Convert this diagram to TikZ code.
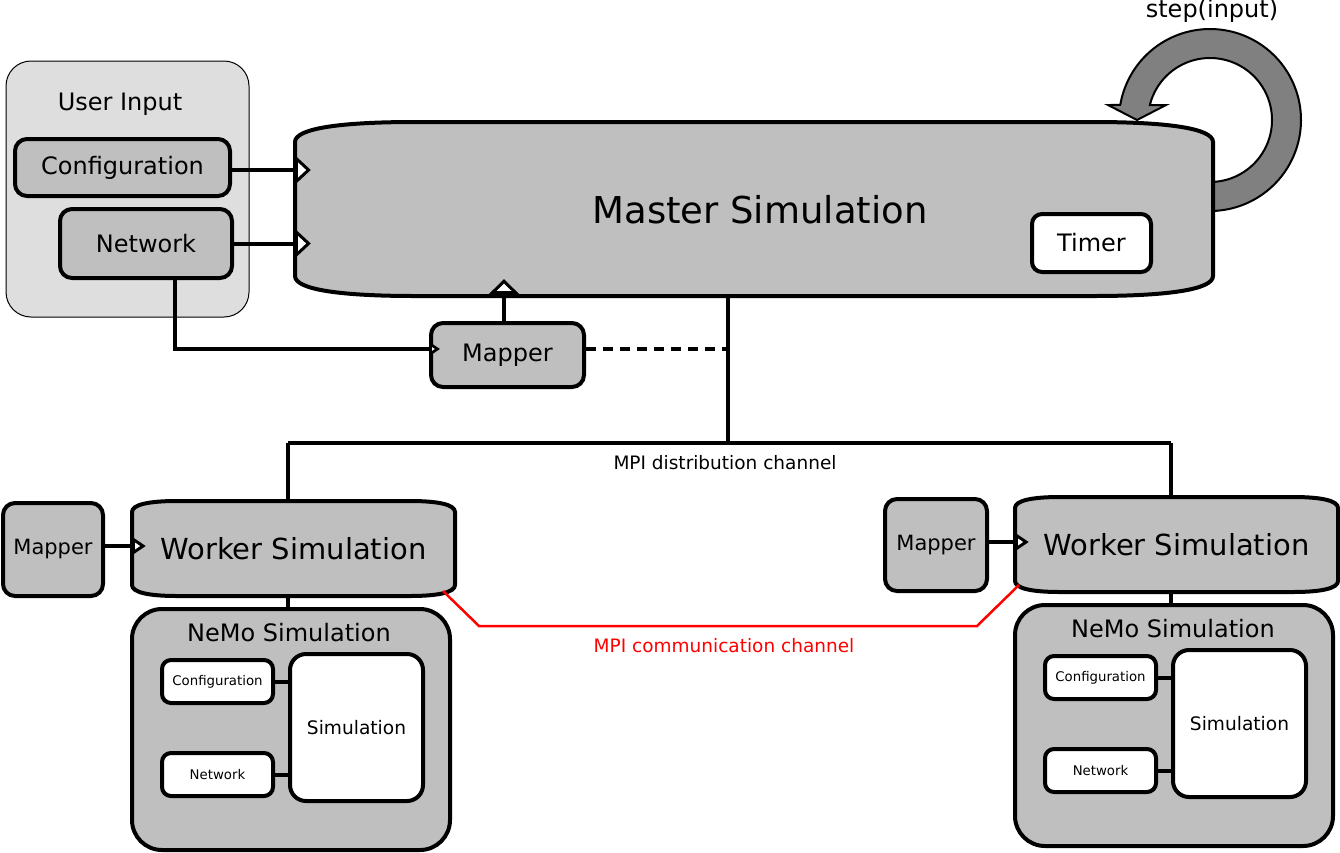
\documentclass[tikz,border=0pt]{standalone}
\usepackage{fontspec}
\setmainfont{DejaVu Sans}
\usetikzlibrary{arrows.meta,calc}
\definecolor{silverc}{RGB}{191,191,191}
\definecolor{uibg}{RGB}{222,222,222}
\definecolor{stepgray}{RGB}{128,128,128}
\newcommand\fsz[1]{\fontsize{#1}{#1}\selectfont}
\newcommand\curvedbox[7]{%
 \filldraw[#7] (#1,{#2+#6}) .. controls (#1,{#2+0.3*#6}) and ({#1+0.4*#5},#2) .. ({#1+#5},#2)
 -- ({#3-#5},#2) .. controls ({#3-0.4*#5},#2) and (#3,{#2+0.3*#6}) .. (#3,{#2+#6})
 -- (#3,{#4-#6}) .. controls (#3,{#4-0.3*#6}) and ({#3-0.4*#5},#4) .. ({#3-#5},#4)
 -- ({#1+#5},#4) .. controls ({#1+0.4*#5},#4) and (#1,{#4-0.3*#6}) .. (#1,{#4-#6}) -- cycle;}
\begin{document}
\begin{tikzpicture}[x=1pt,y=-1pt,
 box/.style={draw,line width=4pt,fill=silverc,rounded corners=12pt,inner sep=0pt},
 wbox/.style={box,fill=white},
 conn/.style={line width=4pt},
 shapeline/.style={fill=silverc,draw,line width=4pt},
 bigtip/.style={-{Triangle[length=16pt,width=29pt,fill=white,line width=3pt]},shorten >=-16pt},
 uptip/.style={-{Triangle[length=15pt,width=30pt,fill=white,line width=3pt]},shorten >=-17pt},
 smalltip/.style={-{Triangle[length=11pt,width=14pt,fill=white,line width=3pt]},shorten >=-11pt},
 midtip/.style={-{Triangle[length=14pt,width=18pt,fill=white,line width=3pt]},shorten >=-14pt},
]
\useasboundingbox (0,0) rectangle (1340,852);

% user input
\node[draw,line width=1pt,fill=uibg,rounded corners=25pt,minimum width=243pt,minimum height=256pt,inner sep=0pt] (ui) at (127.5,189) {};
\node[font=\fsz{24}] (uilabel) at (120,104) {User Input};
\node[box,minimum width=215pt,minimum height=57pt,font=\fsz{24}] (conf) at (122.5,167.5) {Configuration};
\node[box,minimum width=172pt,minimum height=69pt,font=\fsz{24}] (net) at (146,243.5) {Network};

% step arrow
\filldraw[fill=stepgray,line width=2pt,line join=miter]
  plot[smooth,samples=60,domain=0:265.5] ({1210+91*cos(95-\x)},{120+91*sin(95-\x)})
  -- (1108,105) -- (1137,120) -- (1166,105)
  -- plot[smooth,samples=60,domain=-166:95] ({1210+62*cos(\x)},{120+62*sin(\x)}) -- cycle;
\node[font=\fsz{24}] (steplbl) at (1212,11) {step(input)};

% master
\curvedbox{295}{122}{1213}{296}{120}{20}{shapeline}
\node[minimum width=918pt,minimum height=174pt,inner sep=0pt] (master) at (754,209) {};
\node[font=\fsz{37}] (mtitle) at (760,210) {Master Simulation};
\node[wbox,rounded corners=10pt,minimum width=119pt,minimum height=58pt,font=\fsz{24}] (timer) at (1091.5,243) {Timer};

\draw[conn,bigtip] ([yshift=-2.5pt]conf.east) -- ([yshift=-2.5pt]conf.east -| master.west);
\draw[conn,bigtip] (net.east) -- (net.east -| master.west);

% mapper
\node[box,minimum width=153pt,minimum height=64pt,font=\fsz{24}] (mapper) at (507.5,355) {Mapper};
\draw[conn,smalltip] ([xshift=29pt]net.south) |- ([yshift=6pt]mapper.west);
\draw[conn,uptip] ([xshift=-3.5pt]mapper.north) -- ([xshift=-3.5pt]mapper.north |- master.south);
\coordinate (mb) at ([xshift=-26pt]master.south);
\coordinate (hub) at (728,443);
\draw[conn] (mb) -- (hub);
\draw[conn,dash pattern=on 10pt off 7pt] ([yshift=6pt]mapper.east) -- ([yshift=6pt]mapper.east -| mb);

% distribution channel
\coordinate (dl) at (288,443);
\coordinate (dr) at (1171,443);
\draw[conn] (dl) -- (dr);
\node[font=\fsz{18.5}] (mpid) at (725,463) {MPI distribution channel};

% workers
\curvedbox{132}{501}{455}{596}{45}{11}{shapeline}
\node[minimum width=323pt,minimum height=95pt,inner sep=0pt,font=\fsz{29}] (w1) at (293.5,548.5) {Worker Simulation};
\curvedbox{1015}{497}{1338}{592}{45}{11}{shapeline}
\node[minimum width=323pt,minimum height=95pt,inner sep=0pt,font=\fsz{29}] (w2) at (1176.5,544.5) {Worker Simulation};
\draw[conn] (dl) -- (dl |- w1.north);
\draw[conn] (dr) -- (dr |- w2.north);

\node[box,minimum width=100pt,minimum height=93pt,font=\fsz{21}] (mL) at (53,549.5) {Mapper};
\draw[conn,midtip] ([yshift=3.5pt]mL.east) -- ([yshift=3.5pt]mL.east -| w1.west);
\node[box,minimum width=102pt,minimum height=92pt,font=\fsz{21}] (mR) at (936,545) {Mapper};
\draw[conn,midtip] ([yshift=3pt]mR.east) -- ([yshift=3pt]mR.east -| w2.west);

% NeMo left
\node[box,rounded corners=30pt,minimum width=318pt,minimum height=241pt] (n1) at (291,729.5) {};
\node[font=\fsz{24}] (n1t) at (289,633) {NeMo Simulation};
\draw[conn] (w1.south -| dl) -- (n1.north -| dl);
\node[wbox,rounded corners=9pt,minimum width=111pt,minimum height=43pt,font=\fsz{13.3}] (c1) at (217.5,681.5) {Configuration};
\node[wbox,rounded corners=9pt,minimum width=111pt,minimum height=43pt,font=\fsz{13.3}] (k1) at (217.5,774.5) {Network};
\node[wbox,rounded corners=16pt,minimum width=133pt,minimum height=147pt,font=\fsz{18.6}] (s1) at (356.5,727.5) {Simulation};
\draw[conn] (c1.east) -- (c1.east -| s1.west);
\draw[conn] (k1.east) -- (k1.east -| s1.west);

% NeMo right
\node[box,rounded corners=30pt,minimum width=318pt,minimum height=241pt] (n2) at (1174,725.5) {};
\node[font=\fsz{24}] (n2t) at (1173,629) {NeMo Simulation};
\draw[conn] (w2.south -| dr) -- (n2.north -| dr);
\node[wbox,rounded corners=9pt,minimum width=111pt,minimum height=43pt,font=\fsz{13.3}] (c2) at (1100.5,677.5) {Configuration};
\node[wbox,rounded corners=9pt,minimum width=111pt,minimum height=43pt,font=\fsz{13.3}] (k2) at (1100.5,770.5) {Network};
\node[wbox,rounded corners=16pt,minimum width=133pt,minimum height=147pt,font=\fsz{18.6}] (s2) at (1239.5,723.5) {Simulation};
\draw[conn] (c2.east) -- (c2.east -| s2.west);
\draw[conn] (k2.east) -- (k2.east -| s2.west);

% communication channel
\coordinate (r1) at (443,591);
\coordinate (r1b) at (479,626);
\coordinate (r2b) at (977,626);
\coordinate (r2) at (1019,585);
\draw[red,line width=2.5pt] (r1) -- (r1b) -- (r2b) -- (r2);
\node[red,font=\fsz{18.5}] (mpic) at (724,646) {MPI communication channel};
\end{tikzpicture}
\end{document}
